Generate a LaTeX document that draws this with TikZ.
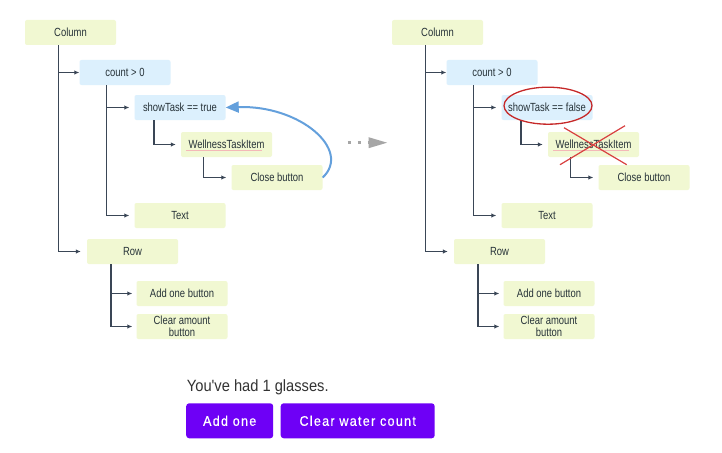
\documentclass[tikz,border=0pt]{standalone}
\usepackage{fontspec}
\setmainfont{Liberation Sans}
\newfontfamily\boxfont[FakeStretch=0.8]{Liberation Sans}
\newfontfamily\uifont[FakeStretch=0.9]{Liberation Sans}
\newfontfamily\btnfont[FakeStretch=0.9,LetterSpace=9,FakeBold=0.6]{Liberation Sans}
\usetikzlibrary{arrows.meta,calc}
\definecolor{boxgreen}{HTML}{F1F8D2}
\definecolor{boxblue}{HTML}{DCF0FD}
\definecolor{txtc}{HTML}{263238}
\definecolor{linec}{HTML}{3A4656}
\definecolor{curveblue}{HTML}{64A0DC}
\definecolor{markred}{HTML}{C62828}
\definecolor{xred}{HTML}{D84040}
\definecolor{btnpurple}{HTML}{6E00F6}
\definecolor{msgc}{HTML}{333333}
\definecolor{squig}{HTML}{F4B8B8}
\definecolor{dotgray}{HTML}{A6A6A6}
\tikzset{
  box/.style={rectangle, rounded corners=2pt, minimum width=91pt, minimum height=25pt,
    inner sep=0pt, align=center, text=txtc, font=\boxfont\fontsize{11.8}{11.7}\selectfont},
  gbox/.style={box, fill=boxgreen},
  bbox/.style={box, fill=boxblue},
  conn/.style={draw=linec, line width=1.5pt, shorten >=5pt, -{Latex[length=5pt,width=4.5pt]}},
  btn/.style={rectangle, rounded corners=3pt, fill=btnpurple, text=white, inner sep=0pt,
    minimum height=35pt, font=\btnfont\fontsize{14}{16}\selectfont},
  redring/.style={draw=markred, line width=1.3pt},
  redcross/.style={draw=xred, line width=1.2pt},
  squigline/.style={draw=squig, line width=0.6pt}
}
\newcommand\treecontent[3]{%
  \begin{scope}[xshift=#2pt]
    \node[gbox] (#1col) at (70.5,32.5) {Column};
    \node[bbox] (#1cnt) at (125,72.5) {count > 0};
    \node[bbox] (#1st)  at (180,107.5) {#3};
    \node[gbox] (#1wti) at (226.5,144.5) {WellnessTaskItem};
    \node[gbox] (#1cb)  at (277,177.5) {Close button};
    \node[gbox] (#1txt) at (180,215.5) {Text};
    \node[gbox] (#1row) at (132.5,251.5) {Row};
    \node[gbox] (#1add) at (182,293.5) {Add one button};
    \node[gbox] (#1clr) at (182,326.5) {Clear amount\\button};
    \draw[conn, shorten >=0pt] ([xshift=33.7pt]#1col.south west) |- (#1cnt.west);
    \draw[conn, shorten >=6pt] ([xshift=33.7pt]#1col.south west) |- (#1row.west);
    \draw[conn] ([xshift=27pt]#1cnt.south west) |- (#1st.west);
    \draw[conn] ([xshift=27pt]#1cnt.south west) |- (#1txt.west);
    \draw[conn] ([xshift=19.7pt]#1st.south west) |- (#1wti.west);
    \draw[conn] ([xshift=22.7pt]#1wti.south west) |- (#1cb.west);
    \draw[conn, shorten >=4pt] ([xshift=24pt]#1row.south west) |- (#1add.west);
    \draw[conn, shorten >=4pt] ([xshift=24pt]#1row.south west) |- (#1clr.west);
    \draw[squigline] ($(#1wti.center)+(-40.5,5.8)$) -- ($(#1wti.center)+(35.8,5.8)$);
  \end{scope}}
\begin{document}
\begin{tikzpicture}[x=1pt,y=-1pt]
  \useasboundingbox[fill=white] (0,0) rectangle (722,452);
  \treecontent{L}{0}{showTask == true}
  \treecontent{R}{367}{showTask == false}
  % feedback curve
  \draw[curveblue, line width=2pt, -{Triangle[length=13pt,width=11pt]}]
    (Lcb.east) .. controls (352,150) and (300,105) .. (Lst.east);
  % transition arrow
  \coordinate (gs) at (347.8,142.7);
  \coordinate (ge) at (387.7,142.7);
  \draw[dotgray, line width=3pt, dash pattern=on 3pt off 7pt,
        -{Triangle[length=19pt,width=10pt]}] (gs) -- (ge);
  % marks on the right tree
  \draw[redring] ($(Rst.center)+(1,-1.8)$) ellipse [x radius=44pt, y radius=18.5pt];
  \draw[redcross] ($(Rwti.center)+(-29.5,-16.8)$) -- ($(Rwti.center)+(33.2,20.2)$);
  \draw[redcross] ($(Rwti.center)+(31.5,-18.8)$) -- ($(Rwti.center)+(-33.5,20.2)$);
  % app preview
  \node[anchor=base west, text=msgc, inner sep=0pt, font=\uifont\fontsize{16.3}{19}\selectfont]
    (msg) at (186.7,391.7) {You've had 1 glasses.};
  \node[btn, minimum width=87pt] (b1) at (229.7,420.8) {Add one};
  \node[btn, minimum width=154pt] (b2) at (357.7,420.8) {Clear water count};
\end{tikzpicture}
\end{document}
